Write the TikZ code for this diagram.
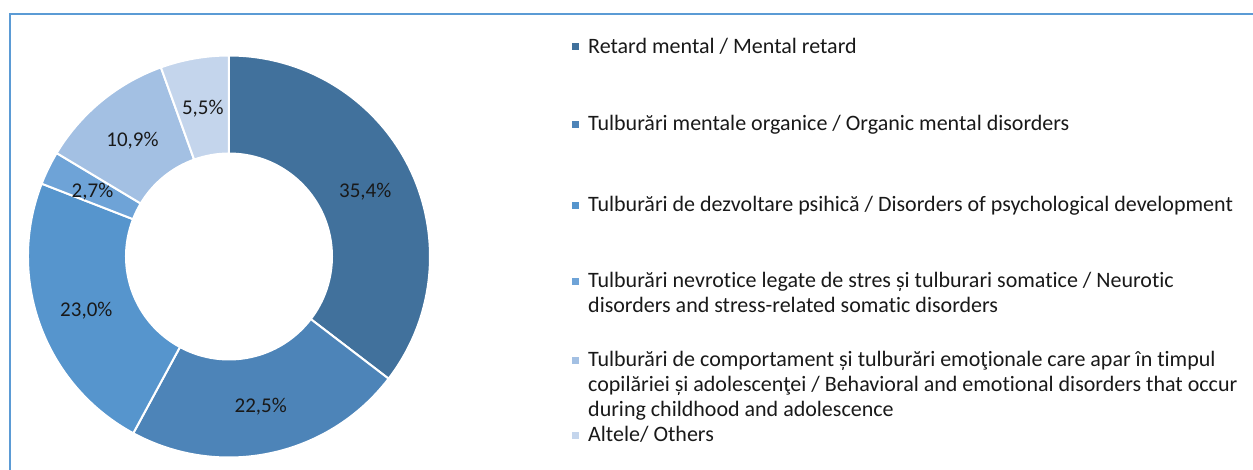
\documentclass[tikz,border=0pt]{standalone}
\usepackage{fontspec}
\setmainfont{Carlito}[Ligatures=NoCommon]
\definecolor{sliceA}{RGB}{65,113,156}
\definecolor{sliceB}{RGB}{77,132,184}
\definecolor{sliceC}{RGB}{86,149,205}
\definecolor{sliceD}{RGB}{110,163,215}
\definecolor{sliceE}{RGB}{163,192,227}
\definecolor{sliceF}{RGB}{196,213,236}
\definecolor{framecol}{RGB}{91,155,213}
\begin{document}
\begin{tikzpicture}[x=1pt,y=1pt,
	slice/.style={draw=white,line width=2pt,line join=round},
	pct/.style={inner sep=0pt,yshift=-2pt,font=\fontsize{21}{24}\selectfont,text=black!90},
	legtext/.style={anchor=base west,inner sep=0pt,align=left,font=\fontsize{22}{25}\selectfont,text=black!90},
	legmark/.style={inner sep=0pt,minimum size=7pt}]
	\useasboundingbox (-229,-213.5) rectangle (1024,256.5);
	\draw[framecol,line width=2pt] (-219,-213.5) -- (-219,242.5) -- (1024,242.5);
	\foreach \i/\a/\b/\c/\v in {1/90/-37.44/sliceA/{35,4\%},2/-37.44/-118.44/sliceB/{22,5\%},3/-118.44/-201.24/sliceC/{23,0\%},4/-201.24/-210.96/sliceD/{2,7\%},5/-210.96/-250.2/sliceE/{10,9\%},6/-250.2/-270/sliceF/{5,5\%}}{
		\filldraw[slice,fill=\c] (\a:103) arc[start angle=\a,end angle=\b,radius=103] -- (\b:201) arc[start angle=\b,end angle=\a,radius=201] -- cycle;
		\node[pct] (pct\i) at ({(\a+\b)/2}:152) {\v};
	}
	\node[legtext] (leg1) at (359,203.2) {Retard mental / Mental retard};
	\node[legtext] (leg2) at (359,125.5) {Tulburări mentale organice / Organic mental disorders};
	\node[legtext] (leg3) at (359,44.8) {Tulburări de dezvoltare psihică / Disorders of psychological development};
	\node[legtext] (leg4) at (359,-56.5) {Tulburări nevrotice legate de stres și tulburari somatice / Neurotic\\disorders and stress-related somatic disorders};
	\node[legtext] (leg5) at (359,-160.2) {Tulburări de comportament și tulburări emoţionale care apar în timpul\\copilăriei și adolescenţei / Behavioral and emotional disorders that occur\\during childhood and adolescence};
	\node[legtext] (leg6) at (359,-185.2) {Altele/ Others};
	\foreach \i/\c/\n in {1/sliceA/0,2/sliceB/0,3/sliceC/0,4/sliceD/1,5/sliceE/2,6/sliceF/0}
		\node[legmark,fill=\c] (mark\i) at ([xshift=-12.5pt,yshift={6.3pt+\n*25pt}]leg\i.base west) {};
\end{tikzpicture}
\end{document}
